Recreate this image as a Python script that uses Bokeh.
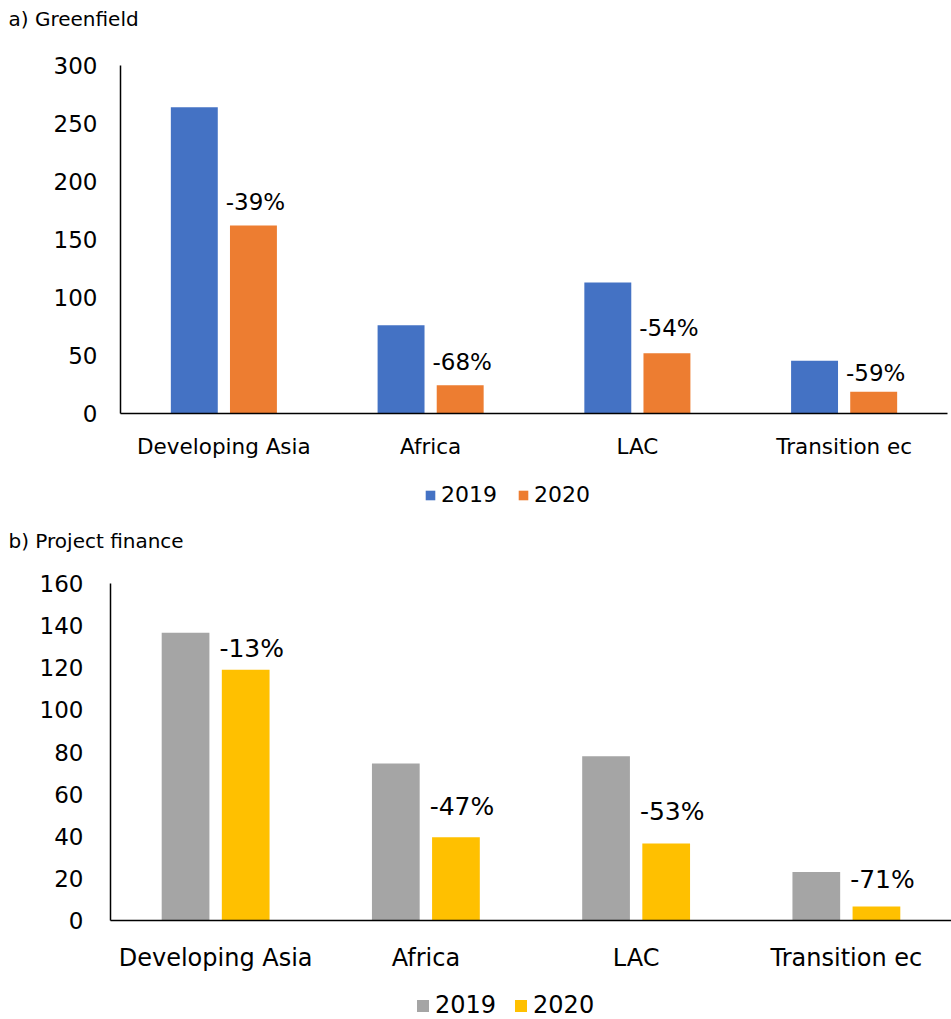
from bokeh.plotting import figure
from bokeh.layouts import column
from bokeh.models import (Range1d, FixedTicker, ColumnDataSource, Label,
                          Legend, LegendItem)
from bokeh.transform import dodge
from bokeh.core.properties import value
from bokeh.embed import file_html
from bokeh.resources import INLINE

# ---- data -----------------------------------------------------------------
regions = ["Developing Asia", "Africa", "LAC", "Transition ec"]
years = ["2019", "2020"]

greenfield_2019 = [264, 76, 113, 45.5]
greenfield_2020 = [162, 24.3, 52, 18.7]
greenfield_change = ["-39%", "-68%", "-54%", "-59%"]
greenfield_ticks = [0, 50, 100, 150, 200, 250, 300]

project_2019 = [136.6, 74.5, 78, 23]
project_2020 = [119, 39.5, 36.5, 6.7]
project_change = ["-13%", "-47%", "-53%", "-71%"]
project_ticks = [0, 20, 40, 60, 80, 100, 120, 140, 160]

FONT = "DejaVu Sans"
W = 951


def make_panel(title, v19, v20, changes, colors, yticks, *, height,
               axis_x, axis_y, frame_right, frame_top,
               tick_size, cat_size, cat_standoff, ytick_standoff,
               pct_size, pct_lift, pct_dx, legend_size, legend_box,
               legend_pos, legend_spacing, title_pos):
    """One bar panel. The plotting frame covers the whole canvas; both axes are
    pinned at zero so that titles and legend can sit inside the frame."""
    n = len(regions)
    ymax = yticks[-1]
    # pixel geometry -> data ranges
    px_per_cat = (frame_right - axis_x) / n
    px_per_unit = (axis_y - frame_top) / ymax
    x_range = Range1d(-axis_x / px_per_cat, (W - axis_x) / px_per_cat)
    y_range = Range1d(-(height - axis_y) / px_per_unit, axis_y / px_per_unit)

    centers = [i + 0.5 for i in range(n)]
    src = ColumnDataSource(dict(x=centers, v19=v19, v20=v20, change=changes,
                                lift=[-d for d in pct_lift]))

    p = figure(x_range=x_range, y_range=y_range, width=W, height=height,
               output_backend="svg", toolbar_location=None,
               min_border_left=0, min_border_right=0,
               min_border_top=0, min_border_bottom=0)
    p.outline_line_color = None
    p.xgrid.visible = False
    p.ygrid.visible = False
    p.background_fill_color = "white"
    p.border_fill_color = "white"

    r19 = p.vbar(x=dodge("x", -0.143), top="v19", width=0.227,
                 source=src, fill_color=colors[0], line_color=None)
    r20 = p.vbar(x=dodge("x", 0.143), top="v20", width=0.227,
                 source=src, fill_color=colors[1], line_color=None)

    # change labels above the 2020 bars
    p.text(x=dodge("x", 0.143), y="v20", text="change", source=src,
           y_offset="lift", x_offset=pct_dx,
           text_align="center", text_baseline="middle",
           text_font=value(FONT), text_font_size=pct_size, text_color="black")

    # y axis, pinned at x = 0
    yax = p.yaxis[0]
    yax.fixed_location = 0
    yax.bounds = (0, ymax)
    yax.ticker = FixedTicker(ticks=yticks)
    yax.axis_line_color = "black"
    yax.axis_line_width = 1.5
    yax.major_tick_line_color = None
    yax.minor_tick_line_color = None
    yax.major_label_standoff = ytick_standoff
    yax.major_label_text_font = FONT
    yax.major_label_text_font_size = tick_size
    yax.major_label_text_color = "black"

    # category axis, pinned at y = 0
    xax = p.xaxis[0]
    xax.fixed_location = 0
    xax.bounds = (0, n)
    xax.ticker = FixedTicker(ticks=centers)
    xax.major_label_overrides = {c: r for c, r in zip(centers, regions)}
    xax.axis_line_color = "black"
    xax.axis_line_width = 1.5
    xax.major_tick_line_color = None
    xax.minor_tick_line_color = None
    xax.major_label_standoff = cat_standoff
    xax.major_label_text_font = FONT
    xax.major_label_text_font_size = cat_size
    xax.major_label_text_color = "black"

    legend = Legend(items=[LegendItem(label=years[0], renderers=[r19]),
                           LegendItem(label=years[1], renderers=[r20])],
                    orientation="horizontal", location=legend_pos,
                    border_line_color=None, background_fill_alpha=0,
                    padding=0, margin=0, spacing=legend_spacing,
                    glyph_width=legend_box, glyph_height=legend_box,
                    label_standoff=5, label_text_font=FONT,
                    label_text_font_size=legend_size, label_text_color="black",
                    label_height=legend_box)
    p.add_layout(legend, "center")

    p.add_layout(Label(x=title_pos[0], y=title_pos[1], x_units="screen", y_units="screen",
                       text=title, text_font=FONT, text_font_size="20px",
                       text_baseline="middle", text_color="black"))
    return p


top = make_panel("a) Greenfield", greenfield_2019, greenfield_2020, greenfield_change,
                 ["#4472C4", "#ED7D31"], greenfield_ticks, height=510,
                 axis_x=120, axis_y=413, frame_right=947, frame_top=65,
                 tick_size="23px", cat_size="21.5px", cat_standoff=14, ytick_standoff=17,
                 pct_size="23px", pct_lift=[24, 23, 25, 19], pct_dx=2,
                 legend_size="22px", legend_box=12, legend_pos=(424, 3),
                 legend_spacing=20, title_pos=(8, 492))

bottom = make_panel("b) Project finance", project_2019, project_2020, project_change,
                    ["#A5A5A5", "#FFC000"], project_ticks, height=509,
                    axis_x=110, axis_y=410, frame_right=951, frame_top=73,
                    tick_size="23px", cat_size="24px", cat_standoff=17, ytick_standoff=21,
                    pct_size="25px", pct_lift=[21, 31, 32, 27], pct_dx=6,
                    legend_size="24px", legend_box=15, legend_pos=(415, 0),
                    legend_spacing=17, title_pos=(8, 479))

layout = column(top, bottom, spacing=0)

with open("out.html", "w") as f:
    f.write(file_html(layout, INLINE))
